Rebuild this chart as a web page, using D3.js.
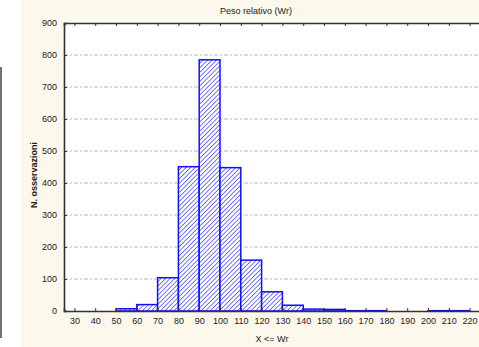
<!DOCTYPE html>
<html>
<head>
<meta charset="utf-8">
<script src="https://cdn.jsdelivr.net/npm/d3@7"></script>
<style>
body { margin: 0; background: #fff; }
svg { display: block; font-family: "Liberation Sans", Arial, sans-serif; }
</style>
</head>
<body>
<div class="chart"></div>
<script>
// bins: upper bound of each class (X <= Wr) and count
const binUpper = [60, 70, 80, 90, 100, 110, 120, 130, 140, 150, 160, 170, 180, 190, 200, 210, 220];
const counts = [7, 20, 104, 451, 785, 448, 159, 60, 18, 6, 5, 1, 1, 0, 0, 1, 1];
const xTicks = [30, 40, 50, 60, 70, 80, 90, 100, 110, 120, 130, 140, 150, 160, 170, 180, 190, 200, 210, 220];
const yTicks = [0, 100, 200, 300, 400, 500, 600, 700, 800, 900];

const W = 479, H = 347;
const plot = {left: 64, top: 23, right: 480, bottom: 311};

const svg = d3.select(".chart").append("svg")
  .attr("width", W)
  .attr("height", H);

// hatch pattern
const defs = svg.append("defs");
defs.append("pattern")
  .attr("id", "hatch")
  .attr("patternUnits", "userSpaceOnUse")
  .attr("width", 3.2)
  .attr("height", 3.2)
  .attr("patternTransform", "rotate(45)")
  .call(p => {
    p.append("rect").attr("width", 3.2).attr("height", 3.2).attr("fill", "#fff");
    p.append("line").attr("x1", 0).attr("y1", 0).attr("x2", 0).attr("y2", 3.2)
      .attr("stroke", "#3030ff").attr("stroke-width", 1.3);
  });

// background panel
svg.append("rect").attr("x", 21).attr("y", 0).attr("width", W - 21).attr("height", H).attr("fill", "#fdf8ec");
svg.append("line").attr("x1", 1).attr("x2", 1).attr("y1", 67).attr("y2", 338)
  .attr("stroke", "#444").attr("stroke-width", 1.5);

svg.append("rect")
  .attr("x", plot.left).attr("y", plot.top)
  .attr("width", plot.right - plot.left).attr("height", plot.bottom - plot.top)
  .attr("fill", "#fff");

const x = d3.scaleLinear().domain([25, 225]).range([plot.left, plot.right]);
const y = d3.scaleLinear().domain([0, 900]).range([plot.bottom, plot.top]);

// grid
svg.append("g")
  .selectAll("line")
  .data(yTicks.filter(d => d > 0 && d < 900))
  .join("line")
  .attr("x1", plot.left).attr("x2", plot.right)
  .attr("y1", d => y(d)).attr("y2", d => y(d))
  .attr("stroke", "#b8b8b8")
  .attr("stroke-dasharray", "4,2,2,2");

// bars
svg.append("g")
  .selectAll("rect")
  .data(binUpper.map((u, i) => ({u: u, n: counts[i]})).filter(d => d.n > 0))
  .join("rect")
  .attr("x", d => x(d.u - 10))
  .attr("y", d => y(d.n))
  .attr("width", d => x(d.u) - x(d.u - 10))
  .attr("height", d => y(0) - y(d.n))
  .attr("fill", "url(#hatch)")
  .attr("stroke", "#1010ff")
  .attr("stroke-width", 1.5);

// axes
const xAxis = d3.axisBottom(x).tickValues(xTicks).tickSize(-3).tickPadding(7);
const xTop = d3.axisTop(x).tickValues(xTicks).tickSize(-3).tickFormat("");
const yAxis = d3.axisLeft(y).tickValues(yTicks).tickSize(-3).tickPadding(7);

const gx = svg.append("g").attr("transform", "translate(0," + plot.bottom + ")").call(xAxis);
const gt = svg.append("g").attr("transform", "translate(0," + plot.top + ")").call(xTop);
const gy = svg.append("g").attr("transform", "translate(" + plot.left + ",0)").call(yAxis);

[gx, gt, gy].forEach(g => {
  g.select(".domain").attr("stroke", "#333").attr("stroke-width", 1.6);
  g.selectAll(".tick line").attr("stroke", "#333");
  g.selectAll("text").attr("fill", "#222").attr("font-size", 9)
    .attr("font-family", "'Liberation Sans', Arial, sans-serif");
});
gy.selectAll(".tick line").filter(d => d === 0 || d === 900).remove();

// titles
svg.append("text")
  .attr("x", 256).attr("y", 14)
  .attr("text-anchor", "middle")
  .attr("font-size", 9)
  .attr("fill", "#222")
  .text("Peso relativo (Wr)");

svg.append("text")
  .attr("x", 272).attr("y", 342)
  .attr("text-anchor", "middle")
  .attr("font-size", 9)
  .attr("fill", "#222")
  .text("X <= Wr");

svg.append("text")
  .attr("transform", "translate(37,175) rotate(-90)")
  .attr("text-anchor", "middle")
  .attr("font-size", 9)
  .attr("font-weight", "bold")
  .attr("fill", "#222")
  .text("N. osservazioni");
</script>
</body>
</html>
